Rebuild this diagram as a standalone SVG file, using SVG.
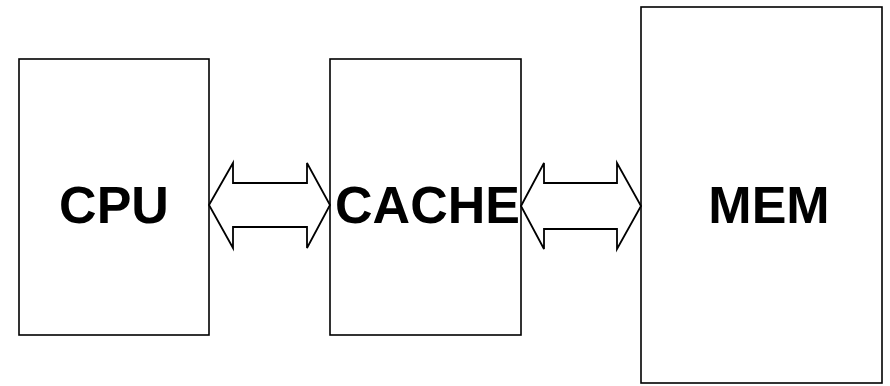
<svg xmlns="http://www.w3.org/2000/svg" width="890" height="386" viewBox="0 0 890 386">
  <style>
    .box { fill: #ffffff; stroke: #000000; stroke-width: 1.6; }
    .label { font-family: "Liberation Sans", Arial, sans-serif; font-weight: bold; font-size: 52px; fill: #000000; text-anchor: middle; }
    .bus { fill: #ffffff; stroke: #000000; stroke-width: 1.8; stroke-linejoin: miter; }
  </style>
  <rect width="890" height="386" fill="#ffffff"/>

  <g id="cpu">
    <rect class="box" x="19" y="59" width="190" height="276"/>
    <text class="label" x="114" y="222.5">CPU</text>
  </g>

  <g id="cache">
    <rect class="box" x="330" y="59" width="191" height="276"/>
    <text class="label" x="427.5" y="222.5">CACHE</text>
  </g>

  <g id="mem">
    <rect class="box" x="641" y="7" width="241" height="376"/>
    <text class="label" x="769" y="222.5">MEM</text>
  </g>

  <!-- double-headed bus arrows between the units -->
  <g id="connectors">
    <polygon class="bus" points="209,205 233,163 233,183 307,183 307,163 330,205 307,248 307,227 233,227 233,248"/>
    <polygon class="bus" points="521,206 544,163 544,183 617,183 617,163 641,206 617,249 617,229 544,229 544,249"/>
  </g>
</svg>
